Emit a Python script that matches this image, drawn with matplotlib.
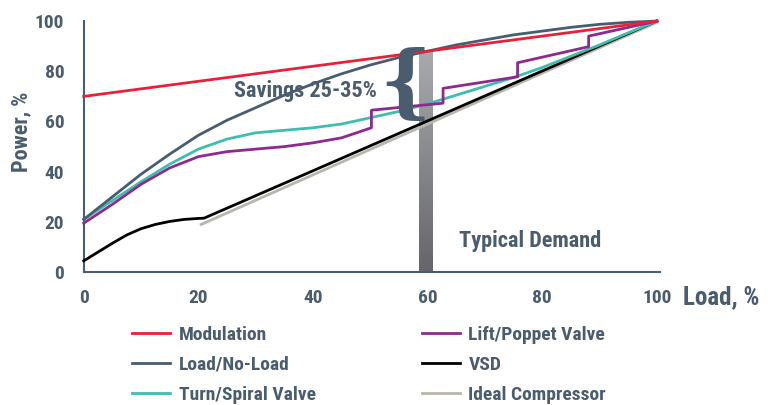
import matplotlib.pyplot as plt
import numpy as np

# values (load %, power %)
mod_x = [0, 100]
mod_y = [70, 100]

load_x = [0, 5, 10, 15, 20, 25, 30, 35, 40, 45, 50, 55, 60, 65, 70, 75, 80, 85, 90, 95, 100]
load_y = [21, 30, 39, 47, 54.5, 60.5, 65.5, 70.5, 75, 79, 82.5, 85.5, 88, 90.5, 92.5, 94.5, 96, 97.5, 98.7, 99.5, 100]

turn_x = [0, 5, 10, 15, 20, 25, 30, 35, 40, 45, 50, 55, 60, 65, 70, 75, 80, 85, 90, 95, 100]
turn_y = [21, 28.5, 36, 43, 49, 53, 55.5, 56.5, 57.5, 59, 61.5, 64, 67, 70.5, 74, 77.5, 81.5, 86, 90.5, 95.3, 100]

lift_x = [0, 5, 10, 15, 20, 25, 30, 35, 40, 45, 50.2, 50.2, 62.7, 62.7, 75.7, 75.7, 88.1, 88.1, 100]
lift_y = [19.5, 27, 35, 41.5, 46, 48, 49, 50, 51.5, 53.5, 57.5, 64.5, 67.3, 73.2, 77.8, 83.4, 89.8, 94, 100]

vsd_x = [0, 2.5, 5, 7.5, 10, 12.5, 15, 17.5, 20, 21, 100]
vsd_y = [4.5, 8, 11.5, 14.8, 17.3, 19, 20.2, 21, 21.4, 21.5, 100]

ideal_x = [20.5, 100]
ideal_y = [19, 99.5]

demand_x = 59.7
demand_top = 88.2

ticks = [0, 20, 40, 60, 80, 100]

SLATE = "#4a5d6e"
plt.rcParams["font.family"] = ["Roboto Condensed", "DejaVu Sans"]

fig = plt.figure(figsize=(7.68, 4.05), dpi=100)
ax = fig.add_axes([0.109, 0.328, 0.750, 0.620])

# typical demand bar, light grey at the top fading to darker grey at the bottom
top_c = np.array([0xa8, 0xaa, 0xad]) / 255
bot_c = np.array([0x66, 0x66, 0x6a]) / 255
t = np.linspace(0, 1, 128)[:, None]
grad = (bot_c * (1 - t) + top_c * t)[:, None, :]
ax.imshow(grad, aspect="auto", origin="lower", interpolation="bilinear",
          extent=[demand_x - 1.15, demand_x + 1.15, 0, demand_top], zorder=1)

lw = 2
ax.plot(ideal_x, ideal_y, color="#b9b6ad", lw=lw, label="Ideal Compressor", zorder=2, clip_on=False)
ax.plot(vsd_x, vsd_y, color="black", lw=lw, label="VSD", zorder=3, clip_on=False)
ax.plot(turn_x, turn_y, color="#3dbfb0", lw=lw, label="Turn/Spiral Valve", zorder=3, clip_on=False)
ax.plot(lift_x, lift_y, color="#8e2a8e", lw=lw, label="Lift/Poppet Valve", zorder=3, clip_on=False)
ax.plot(load_x, load_y, color=SLATE, lw=lw, label="Load/No-Load", zorder=3, clip_on=False)
ax.plot(mod_x, mod_y, color="#e8213a", lw=lw, label="Modulation", zorder=3, clip_on=False)

ax.set_xlim(0, 100.5)
ax.set_ylim(0, 100)
ax.set_xticks(ticks)
ax.set_yticks(ticks)
ax.tick_params(axis="y", length=0, labelsize=14, labelcolor=SLATE, pad=14)
ax.tick_params(axis="x", length=0, labelsize=14, labelcolor=SLATE, pad=12)
for lab in ax.get_xticklabels() + ax.get_yticklabels():
    lab.set_fontweight("bold")
for side in ["top", "right"]:
    ax.spines[side].set_visible(False)
for side in ["left", "bottom"]:
    ax.spines[side].set_color(SLATE)
    ax.spines[side].set_linewidth(1.5)

ax.set_ylabel("Power, %", fontsize=16, fontweight="bold", color=SLATE)
ax.yaxis.set_label_coords(-0.09, 0.56)
ax.text(104.5, -10, "Load, %", fontsize=18, fontweight="bold", color=SLATE,
        ha="left", va="center", clip_on=False)

ax.text(26.2, 72, "Savings 25-35%", fontsize=16, fontweight="bold", color=SLATE,
        ha="left", va="center", zorder=5)
ax.text(65.5, 12.5, "Typical Demand", fontsize=16, fontweight="bold", color=SLATE,
        ha="left", va="center", zorder=5)
ax.text(56.0, 74, "{", fontsize=58, color=SLATE, ha="center", va="center",
        family="DejaVu Serif", fontweight="bold", zorder=5)

h, l = ax.get_legend_handles_labels()
hd = dict(zip(l, h))
left_names = ["Modulation", "Load/No-Load", "Turn/Spiral Valve"]
right_names = ["Lift/Poppet Valve", "VSD", "Ideal Compressor"]
for names, x0 in [(left_names, 0.1715), (right_names, 0.549)]:
    leg = fig.legend([hd[n] for n in names], names, loc="upper left",
                     bbox_to_anchor=(x0, 0.196), frameon=False,
                     prop={"family": "Roboto Condensed", "weight": 600, "size": 14},
                     handlelength=1.95, handletextpad=0.46, labelspacing=0.62,
                     borderaxespad=0, borderpad=0)
    for t in leg.get_texts():
        t.set_color(SLATE)

fig.savefig("out.png", dpi=100)
